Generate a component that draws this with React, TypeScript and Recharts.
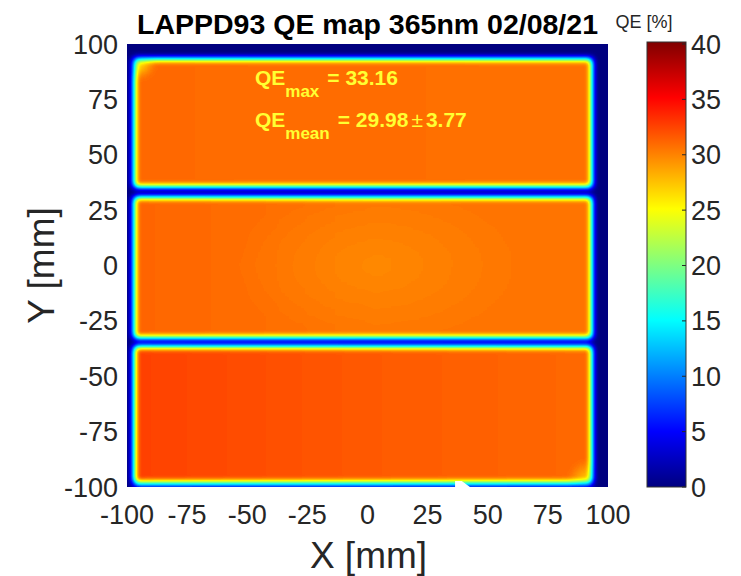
import React from 'react';
import { ScatterChart, XAxis, YAxis, ReferenceArea, ReferenceDot, Label } from 'recharts';

const FONT = '"Liberation Sans", Arial, Helvetica, sans-serif';
const AXIS_COLOR = '#262626';
const TITLE = 'LAPPD93 QE map 365nm 02/08/21';
const CB_TITLE = 'QE [%]';
const QE_MAX = 40;

// axes
const xDomain = [-100, 100];
const yDomain = [-100, 100];
const xTicks = [-100, -75, -50, -25, 0, 25, 50, 75, 100];
const yTicks = [-100, -75, -50, -25, 0, 25, 50, 75, 100];
const qeTicks = [0, 5, 10, 15, 20, 25, 30, 35, 40];

// photocathode tiles (mm) and their QE levels (%)
const tileX1 = [-97.1, -97.1, -97.1];
const tileX2 = [93.4, 93.4, 93.4];
const tileY1 = [35.4, -32.7, -98.2];
const tileY2 = [93.4, 30.9, -36.4];
const tileQeLeft = [30.9, 31.0, 32.5];
const tileQeMid = [30.7, 30.4, 31.5];
const tileQeRight = [30.6, 30.5, 30.9];

// local low-QE spots inside each tile
const spotX = [-96, 4, 92];
const spotY = [92, 0, -97];
const spotRx = [8, 62, 9];
const spotRy = [8, 36, 9];
const spotQe = [24.5, 29.6, 26.5];

// uncovered (NaN) notch on the lower edge
const notchX = [36.4, 42.6];
const notchY = [-100, -97.3];

// statistics
const statNames = ['max', 'mean'];
const statValues = [['33.16'], ['29.98', '3.77']];

// jet colormap
const JET_R = '0 0 0 0 0.5 1 1 1 0.5';
const JET_G = '0 0 0.5 1 1 1 0.5 0 0';
const JET_B = '0.5 1 1 1 0.5 0 0 0 0';
const jetStops = [
  { o: 0, c: '#000080' },
  { o: 0.125, c: '#0000ff' },
  { o: 0.375, c: '#00ffff' },
  { o: 0.625, c: '#ffff00' },
  { o: 0.875, c: '#ff0000' },
  { o: 1, c: '#800000' },
];

const CB_GAP = 39;
const CB_W = 39;

const gray = (qe: number) => {
  const g = Math.max(0, Math.min(255, Math.round((qe / QE_MAX) * 255)));
  return `rgb(${g},${g},${g})`;
};

// whole QE map: drawn in value space (gray), blurred like the scanning beam, then mapped to jet
const mapShape = (p: any) => {
  const { x, y, width, height } = p;
  if (x == null || y == null) return null;
  const kx = width / (xDomain[1] - xDomain[0]);
  const ky = height / (yDomain[1] - yDomain[0]);
  const px = (v: number) => x + (v - xDomain[0]) * kx;
  const py = (v: number) => y + (yDomain[1] - v) * ky;
  return (
    <g>
      <defs>
        <filter id="qeMapFilter" filterUnits="userSpaceOnUse" x={x} y={y} width={width} height={height} colorInterpolationFilters="sRGB">
          <feGaussianBlur stdDeviation={3.2} />
          <feComponentTransfer>
            <feFuncR type="table" tableValues={JET_R} />
            <feFuncG type="table" tableValues={JET_G} />
            <feFuncB type="table" tableValues={JET_B} />
            <feFuncA type="linear" slope={0} intercept={1} />
          </feComponentTransfer>
        </filter>
        {tileX1.map((_, i) => {
          const tx = px(tileX1[i]);
          const ty = py(tileY2[i]);
          const tw = px(tileX2[i]) - tx;
          const th = py(tileY1[i]) - ty;
          return (
            <React.Fragment key={i}>
              <linearGradient id={`tile${i}l`} x1="0" y1="0" x2="1" y2="0">
                <stop offset="0" stopColor={gray(tileQeLeft[i])} />
                <stop offset="0.5" stopColor={gray(tileQeMid[i])} />
                <stop offset="1" stopColor={gray(tileQeRight[i])} />
              </linearGradient>
              <radialGradient id={`tile${i}r`}>
                <stop offset="0" stopColor={gray(spotQe[i])} stopOpacity={1} />
                <stop offset="1" stopColor={gray(spotQe[i])} stopOpacity={0} />
              </radialGradient>
              <clipPath id={`tile${i}c`}>
                <rect x={tx} y={ty} width={tw} height={th} />
              </clipPath>
            </React.Fragment>
          );
        })}
      </defs>
      <g filter="url(#qeMapFilter)">
        <rect x={x} y={y} width={width} height={height} fill="#000" />
        {tileX1.map((_, i) => {
          const tx = px(tileX1[i]);
          const ty = py(tileY2[i]);
          const tw = px(tileX2[i]) - tx;
          const th = py(tileY1[i]) - ty;
          return (
            <g key={i} clipPath={`url(#tile${i}c)`}>
              <rect x={tx} y={ty} width={tw} height={th} fill={`url(#tile${i}l)`} />
              <ellipse cx={px(spotX[i])} cy={py(spotY[i])} rx={spotRx[i] * kx} ry={spotRy[i] * ky} fill={`url(#tile${i}r)`} />
            </g>
          );
        })}
      </g>
    </g>
  );
};

const notchShape = (p: any) => {
  const { x, y, width, height } = p;
  if (x == null) return null;
  const pts = `${x},${y + height} ${x},${y} ${x + 0.45 * width},${y} ${x + width},${y + height}`;
  return <polygon points={pts} fill="#ffffff" />;
};

const cbShape = (p: any) => {
  const { x, y, width, height } = p;
  if (x == null || y == null) return null;
  const bx = x + width + CB_GAP;
  return (
    <g>
      <defs>
        <linearGradient id="jetGrad" x1="0" y1="1" x2="0" y2="0">
          {jetStops.map((s) => (
            <stop key={s.o} offset={s.o} stopColor={s.c} />
          ))}
        </linearGradient>
      </defs>
      <rect x={bx} y={y - 2} width={CB_W} height={height + 2} fill="url(#jetGrad)" stroke="#333333" strokeWidth={1} />
    </g>
  );
};

const CbTick = (tp: any) => {
  const { x, y, payload } = tp;
  const bx = x + CB_GAP + CB_W;
  return (
    <g>
      <line x1={bx - 4} x2={bx} y1={y} y2={y} stroke={AXIS_COLOR} strokeWidth={1} />
      <text x={bx + 5} y={y} dy="0.355em" fontSize={27} fontFamily={FONT} fill={AXIS_COLOR}>
        {payload.value}
      </text>
    </g>
  );
};

function makeStatShape(i: number) {
  const parts = statValues[i];
  return (p: any) => (
    <text x={p.cx} y={p.cy} fill="#FFFF33" fontFamily={FONT} fontWeight="bold" fontSize={21}>
      <tspan>QE</tspan>
      <tspan dy={12} fontSize={17}>{statNames[i]}</tspan>
      <tspan dy={-12} dx={8}>= {parts[0]}</tspan>
      {parts.length > 1 ? (
        <>
          <tspan dx={3} fontWeight="normal">{'\u00B1'}</tspan>
          <tspan dx={3}>{parts[1]}</tspan>
        </>
      ) : null}
    </text>
  );
}

const titleContent = (lp: any) => {
  const vb = lp.viewBox;
  return (
    <text x={vb.x + vb.width / 2} y={vb.y - 10} textAnchor="middle" fontFamily={FONT} fontWeight="bold" fontSize={28.5} fill="#000">
      {TITLE}
    </text>
  );
};
const xLabelContent = (lp: any) => {
  const vb = lp.viewBox;
  return (
    <text x={vb.x + vb.width / 2 + 1} y={vb.y + vb.height + 81} textAnchor="middle" fontFamily={FONT} fontSize={37} fill={AXIS_COLOR}>
      X [mm]
    </text>
  );
};
const yLabelContent = (lp: any) => {
  const vb = lp.viewBox;
  const x = vb.x - 73;
  const y = vb.y + vb.height / 2;
  return (
    <text x={x} y={y} transform={`rotate(-90, ${x}, ${y})`} textAnchor="middle" fontFamily={FONT} fontSize={37} fill={AXIS_COLOR}>
      Y [mm]
    </text>
  );
};

export default function App() {
  const tick = { fill: AXIS_COLOR, fontSize: 27, fontFamily: FONT };
  return (
    <div style={{ position: 'relative', width: 733, height: 568, fontFamily: FONT }}>
      <style>{'html,body{overflow:hidden}'}</style>
      <ScatterChart width={733} height={568} margin={{ top: 36, right: 33, bottom: 59, left: 49 }}>
        <XAxis type="number" dataKey="x" domain={xDomain} ticks={xTicks} interval={0} tickLine={false} axisLine={false} tickSize={0} tickMargin={18} height={30} tick={tick} allowDataOverflow />
        <YAxis type="number" dataKey="y" domain={yDomain} ticks={yTicks} interval={0} tickLine={false} axisLine={false} tickSize={0} tickMargin={9} width={70} tick={tick} allowDataOverflow />
        <YAxis yAxisId="qe" type="number" orientation="right" domain={[0, QE_MAX]} ticks={qeTicks} interval={0} tickLine={false} axisLine={false} tickSize={0} tickMargin={0} width={100} tick={<CbTick />} allowDataOverflow />
        <ReferenceArea x1={xDomain[0]} x2={xDomain[1]} y1={yDomain[0]} y2={yDomain[1]} shape={mapShape}>
          <Label position="top" content={titleContent} />
          <Label position="bottom" content={xLabelContent} />
          <Label position="left" content={yLabelContent} />
        </ReferenceArea>
        <ReferenceArea x1={notchX[0]} x2={notchX[1]} y1={notchY[0]} y2={notchY[1]} shape={notchShape} />
        <ReferenceArea yAxisId="qe" y1={0} y2={QE_MAX} ifOverflow="visible" shape={cbShape} />
        <ReferenceDot x={-46.8} y={81.5} r={0} shape={makeStatShape(0)} />
        <ReferenceDot x={-46.8} y={62.5} r={0} shape={makeStatShape(1)} />
      </ScatterChart>
      <div
        style={{
          position: 'absolute',
          left: 603,
          top: 4,
          width: 66,
          textAlign: 'center',
          fontFamily: FONT,
          fontSize: 18,
          lineHeight: '20px',
          color: AXIS_COLOR,
          whiteSpace: 'nowrap',
        }}
      >
        {CB_TITLE}
      </div>
    </div>
  );
}
